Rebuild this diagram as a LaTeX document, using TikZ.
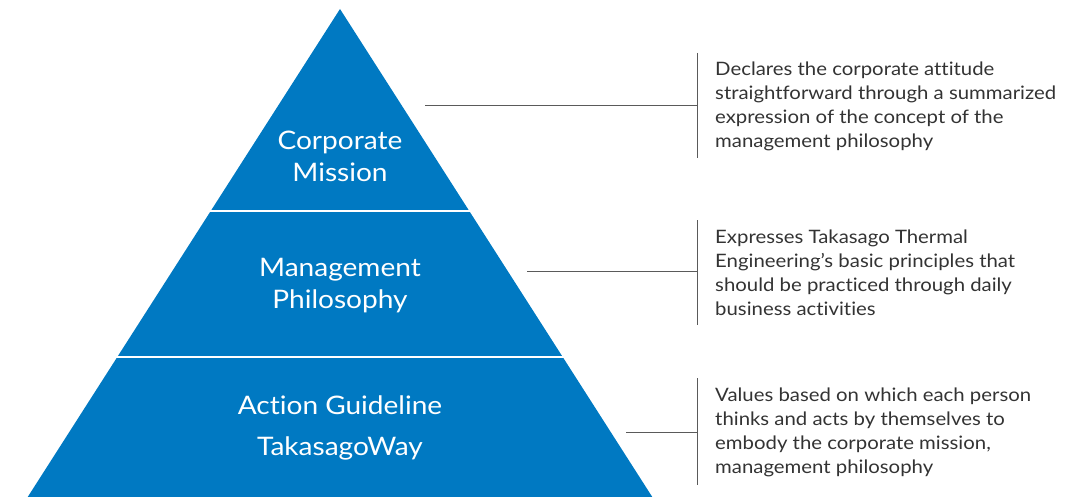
\documentclass[tikz,border=0pt]{standalone}
\usepackage{fontspec}
\setmainfont{Lato}[FakeStretch=1.1,Ligatures=NoCommon]
\definecolor{pyrblue}{HTML}{0079C2}
\definecolor{leadgray}{HTML}{5A5A5A}
\definecolor{notetext}{HTML}{333333}
\begin{document}
\begin{tikzpicture}[x=1pt,y=-1pt,
    title/.style={text=white,font=\fontsize{25.5}{32}\selectfont,align=center},
    note/.style={text=notetext,font=\fontsize{18.5}{24}\selectfont,align=left,anchor=west,inner sep=0pt},
    lead/.style={draw=leadgray,line width=0.9pt}]
  \useasboundingbox (0,0) rectangle (1078,497);
  % pyramid
  \fill[pyrblue] (340,9) -- (652.3,497) -- (27.7,497) -- cycle;
  \draw[white,line width=2.5pt] (100,211) -- (580,211);
  \draw[white,line width=2.5pt] (60,357) -- (620,357);
  \draw
    (340,156) node[title] (mission){Corporate\\Mission}
    (340,286) node[title] (philosophy){Management\\Philosophy}
    (340,428) node[title,font=\fontsize{25.5}{41}\selectfont] (guideline){Action Guideline\\TakasagoWay};
  % notes
  \draw
    (715,106) node[note] (missionnote){Declares the corporate attitude\\straightforward through a summarized\\expression of the concept of the\\management philosophy}
    (715,273) node[note] (philosophynote){Expresses Takasago Thermal\\Engineering’s basic principles that\\should be practiced through daily\\business activities}
    (715,432) node[note] (guidelinenote){Values based on which each person\\thinks and acts by themselves to\\embody the corporate mission,\\management philosophy};
  \coordinate (mfrom) at (425,105);
  \coordinate (mbar) at (697,105);
  \coordinate (mtop) at (697,53);
  \coordinate (mbot) at (697,158);
  \coordinate (pfrom) at (527,271);
  \coordinate (pbar) at (697,271);
  \coordinate (ptop) at (697,220);
  \coordinate (pbot) at (697,325);
  \coordinate (gfrom) at (626,432);
  \coordinate (gbar) at (697,432);
  \coordinate (gtop) at (697,378);
  \coordinate (gbot) at (697,485);
  \begin{scope}[lead]
    \draw (mfrom) to (mbar);
    \draw (mtop) to (mbot);
    \draw (pfrom) to (pbar);
    \draw (ptop) to (pbot);
    \draw (gfrom) to (gbar);
    \draw (gtop) to (gbot);
  \end{scope}
\end{tikzpicture}
\end{document}
